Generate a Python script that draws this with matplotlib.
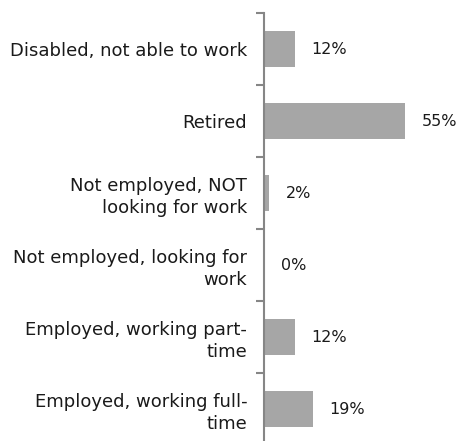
import matplotlib
matplotlib.use('Agg')
import matplotlib.pyplot as plt
import numpy as np

categories = ["Disabled, not able to work", "Retired", "Not employed, NOT\nlooking for work",
              "Not employed, looking for\nwork", "Employed, working part-\ntime", "Employed, working full-\ntime"]
values = [12, 55, 2, 0, 12, 19]
labels = ["12%", "55%", "2%", "0%", "12%", "19%"]

plt.rcParams['font.family'] = ['DejaVu Sans']

fig = plt.figure(figsize=(4.6, 4.41), dpi=100)
ax = fig.add_axes([264 / 460, -4 / 441, 160 / 460, 432 / 441])

y = np.arange(len(categories))
ax.barh(y, values, height=0.51, color='#a6a6a6')
for yi, v, lab in zip(y, values, labels):
    ax.text(v + 6.5, yi, lab, va='center', ha='left', fontsize=11.5, color='#1a1a1a')

ax.set_ylim(len(categories) - 0.5, -0.5)
ax.set_xlim(0, 160 / 2.57)
ax.set_yticks(y)
ax.set_yticklabels(categories, fontsize=13, color='#1a1a1a', ha='right', linespacing=1.3)
ax.tick_params(axis='y', which='major', length=0, pad=12)
ax.set_yticks(np.arange(-0.5, len(categories)), minor=True)
ax.tick_params(axis='y', which='minor', length=6, width=1.5, color='#868686')
ax.set_xticks([])
for s in ['top', 'right', 'bottom']:
    ax.spines[s].set_visible(False)
ax.spines['left'].set_color('#868686')
ax.spines['left'].set_linewidth(1.5)
ax.patch.set_alpha(0)

fig.savefig('out.png', dpi=100)
